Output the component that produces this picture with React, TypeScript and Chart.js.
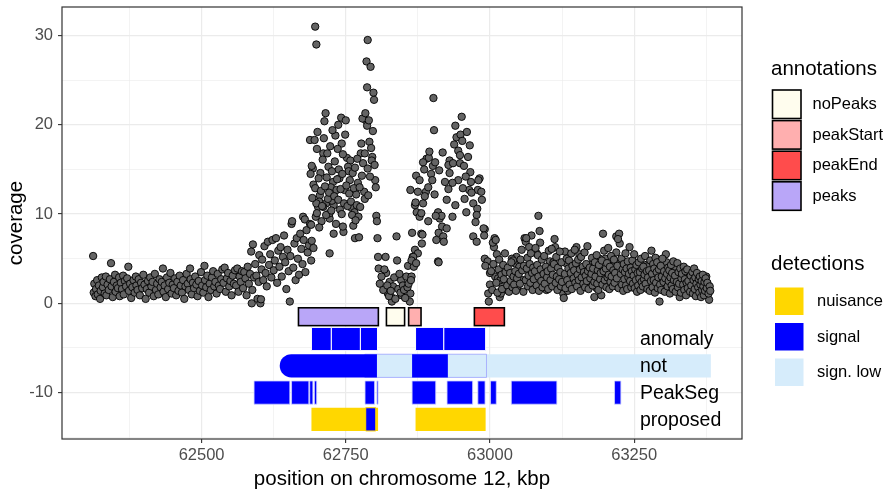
import React, { useEffect, useRef } from 'react';
import { Chart, registerables } from 'chart.js';
Chart.register(...registerables);

const FONT = '"Liberation Sans", Arial, Helvetica, sans-serif';

// ---- axes ----
const X_LIMITS = [62258, 63437];
const Y_LIMITS = [-15.2, 33.2];
const xTickValues = [62375, 62500, 62625, 62750, 62875, 63000, 63125, 63250, 63375];
const xTickLabels = ['', '62500', '', '62750', '', '63000', '', '63250', ''];
const yTickValues = [-15, -10, -5, 0, 5, 10, 15, 20, 25, 30];
const yTickLabels = ['', '-10', '', '0', '', '10', '', '20', '', '30'];
const xTitle = 'position on chromosome 12, kbp';
const yTitle = 'coverage';

// ---- coverage points [position kbp, coverage] ----
const baseCoverage = [
  [62312,5.3],[62313,1.2],[62314,2.2],[62316,0.8],[62317,1.6],[62319,2.6],[62320,1.0],[62322,2.0],[62324,0.5],[62325,1.4],
  [62327,2.9],[62329,1.8],[62330,2.4],[62332,1.1],[62334,3.0],[62335,0.9],[62337,2.1],[62339,1.5],[62341,2.7],[62343,4.5],
  [62344,1.9],[62346,0.7],[62348,2.4],[62350,3.2],[62351,1.3],[62353,2.0],[62355,1.7],[62357,2.9],[62358,0.8],[62360,2.3],
  [62362,1.6],[62364,3.1],[62365,1.0],[62367,2.5],[62369,1.9],[62371,2.8],[62373,4.1],[62374,1.4],[62376,2.2],[62378,0.6],
  [62380,1.8],[62382,2.6],[62384,1.2],[62386,3.0],[62387,2.0],[62389,1.5],[62391,2.7],[62393,0.9],[62395,2.3],[62397,1.7],
  [62399,3.2],[62401,2.1],[62403,0.5],[62405,1.6],[62407,2.5],[62409,1.2],[62411,2.9],[62413,1.9],[62415,2.4],[62417,0.8],
  [62419,3.3],[62421,1.5],[62423,2.2],[62425,1.0],[62427,2.7],[62429,1.8],[62431,2.4],[62433,3.9],[62434,1.3],[62436,2.0],
  [62438,0.7],[62440,2.9],[62442,1.6],[62444,2.3],[62446,3.4],[62448,1.1],[62450,2.1],[62452,1.7],[62454,2.8],[62456,0.9],
  [62458,2.4],[62460,1.4],[62462,3.1],[62464,2.0],[62466,1.2],[62468,2.6],[62470,0.5],[62472,1.9],[62474,3.3],[62476,2.2],
  [62478,1.5],[62480,3.9],[62481,2.7],[62483,1.0],[62485,2.3],[62487,1.7],[62489,3.0],[62491,2.1],[62493,0.8],[62495,2.5],
  [62497,1.4],[62499,3.5],[62501,2.0],[62503,1.2],[62505,4.2],[62506,2.6],[62508,1.8],[62510,3.1],[62512,0.7],[62514,2.2],
  [62516,1.5],[62518,2.9],[62520,3.6],[62522,1.9],[62524,2.4],[62526,1.1],[62528,3.3],[62530,2.0],[62532,1.6],[62534,2.7],
  [62536,3.8],[62538,2.3],[62540,4.0],[62542,1.3],[62544,2.8],[62546,3.4],[62548,1.9],[62550,2.5],[62552,0.9],[62554,3.1],
  [62556,2.2],[62558,3.7]
];
const riseCoverage = [
  [62560,2.0],[62562,3.9],[62564,1.3],[62566,3.0],[62568,2.4],[62570,3.6],[62572,1.7],[62574,3.5],[62576,2.8],[62578,0.9],
  [62580,4.1],[62582,2.2],[62584,3.3],[62586,5.8],[62587,0.0],[62588,1.5],[62589,6.6],[62591,2.9],[62593,4.4],[62595,3.1],
  [62597,0.5],[62599,2.4],[62600,5.4],[62602,0.0],[62603,0.45],[62604,3.8],[62605,4.9],[62607,2.6],[62609,6.4],[62611,3.4],
  [62613,1.9],[62615,6.9],[62617,4.3],[62619,5.5],[62621,2.9],[62623,7.1],[62625,3.7],[62627,4.8],[62629,7.3],[62631,2.3],
  [62633,5.9],[62635,4.1],[62637,6.3],[62639,3.0],[62641,5.2],[62643,7.6],[62645,4.6],[62647,1.6],[62649,6.0],[62651,3.6],
  [62653,0.2],[62654,5.3],[62656,8.9],[62657,9.2],[62659,4.0],[62661,6.7],[62663,2.6],[62665,7.3],[62667,5.0],[62669,3.2],
  [62671,7.8],[62673,6.1],[62675,4.4],[62676,9.7],[62677,7.1],[62679,9.4],[62680,3.5],[62682,8.2],[62684,5.7],[62686,6.5],
  [62688,8.9],[62690,4.8]
];
const peak1Coverage = [
  [62697,31.0],[62699,29.0],[62788,29.5],[62786,27.1],[62793,26.5],[62787,24.2],[62798,23.6],[62799,22.8],
  [62715,21.3],[62713,20.4],[62742,20.8],[62750,20.5],[62737,20.0],[62701,19.2],[62688,18.3],[62696,18.3],[62732,18.8],
  [62749,18.9],[62743,17.9],[62736,17.3],[62700,17.3],[62711,16.8],[62710,16.1],[62752,16.3],[62758,16.0],[62754,15.3],
  [62755,14.8],[62720,15.3],[62693,15.1],[62689,14.5],[62706,14.6],[62717,14.1],[62728,13.6],[62739,14.0],[62757,13.8],
  [62771,13.5],[62724,13.0],[62734,12.7],[62748,12.7],[62768,12.2],[62782,12.5],[62783,11.7],[62694,13.3],[62705,12.1],
  [62704,11.4],[62702,10.8],[62716,11.2],[62729,11.0],[62740,10.5],[62760,10.7],[62765,10.2],[62761,9.9],[62772,9.7],
  [62722,9.5],[62708,9.2],[62690,8.8],[62729,7.8],[62746,8.0],[62745,8.6],[62766,7.3],[62773,7.4],[62722,5.6],[62801,13.8],
  [62802,13.0],[62803,9.8],[62804,9.2],[62805,7.3],[62777,17.9],[62776,16.8],[62791,18.1],[62794,17.4],[62796,16.4],
  [62795,16.0],[62780,15.7],[62783,16.8],[62785,20.5],[62779,20.7],[62784,21.3],[62787,19.9],[62790,20.5],[62698,9.7],
  [62722,10.1],[62726,11.5],[62711,10.8],[62699,11.2],[62691,15.4],
  [62691,7.0],[62692,11.8],[62694,6.2],[62697,12.9],[62700,10.1],[62703,14.0],[62704,8.5],[62707,12.6],[62709,10.9],
  [62712,18.5],[62714,13.1],[62716,9.9],[62718,16.8],[62719,11.7],[62721,12.4],[62723,17.6],[62725,10.4],[62726,14.8],
  [62727,19.4],[62730,12.0],[62731,15.9],[62733,8.9],[62735,13.9],[62737,11.6],[62738,15.0],[62741,12.8],[62743,10.0],
  [62744,14.5],[62745,16.7],[62747,11.2],[62751,13.2],[62753,10.9],[62756,12.3],[62759,11.4],[62762,14.6],[62763,8.7],
  [62764,12.9],[62766,15.2],[62767,9.3],[62769,11.0],[62770,16.2],[62774,13.0],[62775,10.8],[62778,14.3],[62788,15.1],
  [62789,12.1],[62792,14.2],[62797,19.3],[62800,15.5]
];
const dipCoverage = [
  [62806,5.2],[62819,5.2],[62838,7.5],[62807,3.9],[62820,3.4],[62839,4.8],[62809,2.2],[62826,2.4],[62832,1.9],[62846,2.6],
  [62855,3.0],[62864,3.0],[62829,0.7],[62830,0.2],[62847,0.9],[62861,0.2],[62858,4.2],[62866,5.2],[62865,7.9],[62862,1.1],
  [62823,1.1],[62812,3.0],[62815,1.5],[62817,3.8],[62822,2.0],[62825,0.8],[62828,1.4],[62834,2.9],[62836,0.5],[62841,1.6],
  [62843,3.3],[62845,1.2],[62849,2.0],[62851,1.5],[62853,0.6],[62857,1.8],[62859,2.2],[62863,2.6],[62868,4.1],[62862,12.7]
];
const peak2Coverage = [
  [62902,23.0],[62903,19.4],[62951,20.9],[62940,19.9],[62942,18.6],[62949,18.9],[62952,18.2],[62965,17.7],[62938,17.8],
  [62890,16.2],[62894,16.3],[62901,15.4],[62898,14.5],[62872,14.3],[62878,13.8],[62875,12.5],[62889,12.5],[62904,12.2],
  [62900,13.8],[62922,13.6],[62930,16.0],[62928,15.5],[62936,15.7],[62948,15.7],[62955,15.4],[62962,16.4],[62966,14.7],
  [62982,14.0],[62980,13.8],[62945,13.8],[62935,13.5],[62967,13.6],[62964,12.7],[62979,12.7],[62985,12.5],[62968,12.4],
  [62956,11.7],[62986,11.6],[62971,11.2],[62978,10.6],[62959,10.2],[62977,9.9],[62975,9.1],[62991,8.3],[62971,7.5],
  [62977,6.9],[62870,11.0],[62871,11.3],[62884,11.2],[62887,12.0],[62893,13.0],[62873,10.2],[62878,9.7],[62881,10.1],
  [62893,9.2],[62910,10.2],[62913,9.5],[62916,9.8],[62925,11.6],[62935,9.7],[62906,9.8],[62917,8.6],[62925,8.4],
  [62911,7.9],[62919,7.5],[62907,7.1],[62920,6.9],[62881,7.8],[62883,7.7],[62882,6.7],[62870,6.0],[62875,5.6],[62867,5.2],
  [62864,4.8],[62872,4.5],[62910,4.7],[62911,4.6],[62895,17.0],[62930,14.6],[62945,17.1],[62958,14.2],[62940,11.0],
  [62928,12.8],[62912,14.9],[62905,15.8],[62918,16.9],[62953,12.9],[62960,19.2],[62948,16.6],[62884,15.8],[62886,15.0]
];
const tailCoverage = [
  [62989,8.4],[62990,7.6],[63007,6.3],[63008,7.3],[63005,6.8],[62991,5.0],[62996,4.7],[63009,3.0],[63014,2.8],[62997,1.1],
  [62998,0.2],[63017,0.7],[63022,2.0],[62992,4.2],[63000,3.4],[63010,7.1],[63018,2.6],[63019,1.1],[63029,1.5],[63034,2.2],
  [63043,4.5],[63046,5.2],[63051,4.1],[63060,7.3],[63062,6.9],[63057,2.6],[63048,1.9],[63084,9.8],[63086,8.1],[63087,6.8],
  [63072,7.6],[63063,7.3],[63068,6.3],[63055,6.0],[63038,5.0],[63040,4.8],[63081,5.6],[63083,5.4],[63112,7.2],[63113,6.3],
  [63104,4.7],[63110,4.6],[63130,5.8],[63150,6.3],[63155,5.5],[63132,4.5],[63098,1.5],[63127,1.1],[63128,0.6],[63135,1.4],
  [63181,0.7],[63196,7.8],[63219,7.5],[63224,7.8],[63225,6.7],[63222,7.2],[63219,5.7],[63226,4.7],[63212,4.4],[63190,5.0],
  [63200,5.0],[63175,4.3],[63160,3.7],[63185,1.7],[63193,0.9],[63172,1.9],[63280,5.9],[63300,4.7],[63306,4.6],[63305,5.5],
  [63271,4.3],[63275,4.2],[63294,0.2],[63323,3.9],[63345,3.4],[63346,2.8],[63375,3.0],[63378,1.9],[63380,0.4],[63360,1.0],
  [63350,1.5],[63329,0.7],[63334,1.8],[63320,2.0],
  [63000,2.1],[63002,3.6],[63004,1.5],[63006,4.4],[63011,2.3],[63012,5.5],[63013,1.2],[63015,3.8],[63016,4.9],[63020,3.2],
  [63021,1.6],[63023,4.3],[63024,2.7],[63026,5.6],[63027,3.5],[63030,2.0],[63031,4.0],[63033,1.3],[63035,3.4],[63036,2.5],
  [63037,4.6],[63039,1.8],[63041,3.0],[63042,2.1],[63044,3.6],[63045,1.4],[63047,2.8],[63050,3.3],[63052,2.2],[63053,4.9],
  [63056,3.7],[63058,1.3],[63059,4.2],[63062,2.6],[63064,3.9],[63065,5.1],[63066,1.9],[63067,3.1],[63069,4.4],[63070,2.3],
  [63071,5.6],[63073,3.4],[63074,1.5],[63075,4.0],[63076,2.7],[63078,3.6],[63079,6.2],[63081,2.0],[63082,4.3],[63084,3.0],
  [63085,1.4],[63088,3.8],[63089,2.5],[63090,4.9],[63091,1.8],[63093,3.3],[63094,5.3],[63095,2.2],[63097,4.1],[63099,2.9],
  [63100,3.6],[63101,1.6],[63102,5.9],[63105,2.6],[63106,3.9],[63107,6.1],[63108,1.9],[63109,3.2],[63111,4.4],[63114,2.3],
  [63115,5.2],[63116,3.0],[63117,1.5],[63118,4.0],[63120,2.7],[63121,5.8],[63122,3.5],[63123,1.9],[63124,4.6],[63125,2.4],
  [63130,3.3],[63131,1.7],[63133,5.0],[63134,2.6],[63136,3.9],[63137,4.8],[63138,2.1],[63140,3.4],[63141,5.6],[63142,1.6],
  [63143,4.2],[63145,2.8],[63146,3.7],[63147,6.0],[63148,2.3],[63149,4.5],[63151,1.9],[63152,3.2],[63153,4.9],[63154,2.6],
  [63156,3.8],[63157,1.4],[63158,5.2],[63159,2.9],[63161,4.1],[63162,2.2],[63163,3.5],[63164,5.7],[63165,1.8],[63166,3.1],
  [63167,4.4],[63168,2.5],[63169,6.4],[63170,3.6],[63171,1.6],[63173,4.0],[63174,2.8],[63176,3.3],[63177,5.1],[63178,2.0],
  [63179,3.9],[63181,2.4],[63182,4.6],[63183,3.0],[63185,5.4],[63186,2.2],[63187,3.7],[63188,1.5],[63189,4.3],[63191,2.7],
  [63192,3.4],[63194,4.8],[63195,2.1],[63197,3.6],[63198,5.9],[63199,2.6],[63201,3.9],[63202,1.8],[63203,4.5],[63204,2.9],
  [63205,6.2],[63206,3.2],[63207,1.6],[63208,4.1],[63209,2.4],[63210,5.3],[63211,3.0],[63213,1.9],[63214,3.7],[63215,4.9],
  [63216,2.3],[63217,3.4],[63220,2.8],[63221,4.2],[63223,1.7],[63227,3.3],[63228,5.0],[63229,2.1],[63230,3.8],[63231,1.4],
  [63232,4.4],[63233,2.7],[63234,3.5],[63235,5.6],[63236,2.0],[63237,3.9],[63238,1.6],[63239,4.7],[63240,2.9],[63241,3.3],
  [63242,6.3],[63243,2.5],[63244,4.0],[63245,1.8],[63246,3.6],[63247,4.8],[63248,2.2],[63249,3.1],[63250,5.5],[63251,1.7],
  [63252,3.8],[63253,2.6],[63254,4.3],[63255,1.3],[63256,3.4],[63257,2.0],[63258,4.6],[63259,2.8],[63260,3.5],[63261,1.5],
  [63262,5.0],[63263,2.4],[63264,3.9],[63265,1.9],[63266,4.1],[63267,2.7],[63268,3.2],[63269,5.3],[63270,2.2],[63272,3.6],
  [63273,1.6],[63274,2.9],[63276,3.7],[63277,1.4],[63278,4.8],[63279,2.5],[63281,3.3],[63282,1.8],[63283,4.4],[63284,2.6],
  [63285,3.9],[63286,1.2],[63287,5.1],[63288,2.3],[63289,3.5],[63290,4.6],[63291,1.7],[63292,2.9],[63293,3.8],[63295,2.1],
  [63296,4.2],[63297,1.5],[63298,3.0],[63299,5.0],[63301,2.4],[63302,3.6],[63303,1.3],[63304,2.8],[63307,3.3],[63308,1.9],
  [63309,4.0],[63310,2.5],[63311,3.7],[63312,1.1],[63313,2.9],[63314,4.3],[63315,2.0],[63316,3.4],[63317,1.6],[63318,4.7],
  [63319,2.6],[63321,3.1],[63322,1.3],[63324,2.4],[63325,4.5],[63326,1.8],[63327,3.5],[63328,2.2],[63330,3.9],[63331,1.2],
  [63332,2.8],[63333,3.3],[63335,2.1],[63336,4.1],[63337,1.5],[63338,2.7],[63339,3.6],[63340,0.9],[63341,2.3],[63342,3.8],
  [63343,1.7],[63344,2.5],[63347,1.3],[63348,3.1],[63349,2.0],[63351,3.5],[63352,1.1],[63353,2.6],[63354,3.9],[63355,1.6],
  [63356,2.9],[63357,0.8],[63358,2.2],[63359,3.4],[63361,1.8],[63362,2.7],[63363,1.2],[63364,3.0],[63365,2.1],[63366,0.7],
  [63367,2.5],[63368,1.5],[63369,3.2],[63370,1.9],[63371,0.9],[63372,2.4],[63373,1.4],[63374,2.8],[63376,1.7],[63377,2.3],
  [63379,1.1],[63381,1.9],[63382,1.4]
];

// ---- annotations ----
const annType = ['peaks', 'noPeaks', 'peakStart', 'peakEnd'];
const annStart = [62668, 62820.5, 62859, 62973];
const annEnd = [62806.5, 62852, 62880.5, 63025];
const annYRange = [-2.5, -0.5];
const annLegendNames = ['noPeaks', 'peakStart', 'peakEnd', 'peaks'];
const annColors = { noPeaks: '#FFFDEE', peakStart: '#FFAFAF', peakEnd: '#FF4C4C', peaks: '#B9A6F8' };

// ---- detections ----
const rowNames = ['anomaly', 'not', 'PeakSeg', 'proposed'];
const rowY = [-4, -7, -10, -13];
const rowHalf = 1.3;
const rowLabelX = 63260;
const anomalySignal = [[62690.5, 62725], [62725, 62775.4], [62775.4, 62805], [62871, 62920], [62920, 62992.5]];
const notLow = [[62804, 63383]];
const notLowOutlined = [[62783, 62994]];
const notSignal = [[62635.5, 62804], [62865, 62927]];
const peakSegSignal = [
  [62591, 62653], [62656, 62686], [62687.5, 62693], [62695.6, 62699.6], [62783.4, 62800], [62804, 62806],
  [62865, 62906], [62925.6, 62970], [62979, 62991.5], [63001, 63011], [63037, 63116], [63216, 63227]
];
const proposedNuisance = [[62690.5, 62806], [62871, 62992.5]];
const proposedSignal = [[62784.6, 62802]];
const detLegendNames = ['nuisance', 'signal', 'sign. low'];
const detColors = { nuisance: '#FFD700', signal: '#0000FF', 'sign. low': '#D6ECFB' };

const allCoverage = [
  ...baseCoverage, ...riseCoverage, ...peak1Coverage, ...dipCoverage, ...peak2Coverage, ...tailCoverage
];

const overlayPlugin = {
  id: 'overlay',
  afterDatasetsDraw(chart: any) {
    const { ctx, chartArea } = chart;
    const xs = chart.scales.x;
    const ys = chart.scales.y;
    const px = (v: number) => xs.getPixelForValue(v);
    const py = (v: number) => ys.getPixelForValue(v);
    ctx.save();
    ctx.beginPath();
    ctx.rect(chartArea.left, chartArea.top, chartArea.right - chartArea.left, chartArea.bottom - chartArea.top);
    ctx.clip();

    // annotation rectangles
    annStart.forEach((s, i) => {
      const x0 = px(s), x1 = px(annEnd[i]);
      const y0 = py(annYRange[1]), y1 = py(annYRange[0]);
      ctx.fillStyle = (annColors as any)[annType[i]];
      ctx.fillRect(x0, y0, x1 - x0, y1 - y0);
      ctx.lineWidth = 1.6;
      ctx.strokeStyle = '#000';
      ctx.strokeRect(x0, y0, x1 - x0, y1 - y0);
    });

    const band = (segs: number[][], row: number, fill: string, stroke: string | null, lw: number, roundLeft = false) => {
      segs.forEach(([a, b]) => {
        const x0 = px(a), x1 = px(b);
        const y0 = py(rowY[row] + rowHalf), y1 = py(rowY[row] - rowHalf);
        ctx.fillStyle = fill;
        ctx.beginPath();
        if (roundLeft) {
          const r = (y1 - y0) / 2;
          (ctx as any).roundRect(x0, y0, x1 - x0, y1 - y0, [r, 0, 0, r]);
        } else {
          ctx.rect(x0, y0, x1 - x0, y1 - y0);
        }
        ctx.fill();
        if (stroke) {
          ctx.lineWidth = lw;
          ctx.strokeStyle = stroke;
          ctx.stroke();
        }
      });
    };

    band(anomalySignal, 0, detColors.signal, '#FFFFFF', 1);
    band(notLow, 1, detColors['sign. low'], null, 0);
    band(notLowOutlined, 1, detColors['sign. low'], '#8C8CFF', 0.6);
    band(notSignal.slice(0, 1), 1, detColors.signal, null, 0, true);
    band(notSignal.slice(1), 1, detColors.signal, null, 0);
    band(peakSegSignal, 2, detColors.signal, '#CFD3FF', 0.8);
    band(proposedNuisance, 3, detColors.nuisance, null, 0);
    band(proposedSignal, 3, detColors.signal, detColors.nuisance, 1);

    ctx.fillStyle = '#000';
    ctx.font = `19.5px ${FONT}`;
    ctx.textAlign = 'left';
    ctx.textBaseline = 'middle';
    rowNames.forEach((n, i) => ctx.fillText(n, px(rowLabelX), py(rowY[i]) + 1));
    ctx.restore();
  },
  afterDraw(chart: any) {
    const { ctx, chartArea } = chart;
    ctx.save();
    // panel border
    ctx.strokeStyle = '#333333';
    ctx.lineWidth = 1.2;
    ctx.strokeRect(chartArea.left, chartArea.top, chartArea.right - chartArea.left, chartArea.bottom - chartArea.top);

    // legend: annotations
    ctx.fillStyle = '#000';
    ctx.textAlign = 'left';
    ctx.textBaseline = 'middle';
    ctx.font = `20.5px ${FONT}`;
    ctx.fillText('annotations', 771, 69);
    ctx.font = `16.5px ${FONT}`;
    annLegendNames.forEach((n, i) => {
      const top = 90 + i * 30.6;
      ctx.fillStyle = (annColors as any)[n];
      ctx.fillRect(772.5, top, 28.5, 28.5);
      ctx.lineWidth = 1.6;
      ctx.strokeStyle = '#000';
      ctx.strokeRect(772.5, top, 28.5, 28.5);
      ctx.fillStyle = '#000';
      ctx.fillText(n, 812.5, top + 14.5);
    });
    // legend: detections
    ctx.font = `20.5px ${FONT}`;
    ctx.fillText('detections', 771, 264);
    ctx.font = `16.5px ${FONT}`;
    detLegendNames.forEach((n, i) => {
      const top = 287.5 + i * 35.5;
      ctx.fillStyle = (detColors as any)[n];
      ctx.fillRect(775, top, 28.5, 27.5);
      ctx.fillStyle = '#000';
      ctx.fillText(n, 817, top + 14);
    });
    ctx.restore();
  }
};

export default function App() {
  const ref = useRef<HTMLCanvasElement | null>(null);
  useEffect(() => {
    if (!ref.current) return;
    const isMajorX = (v: number) => xTickLabels[xTickValues.indexOf(v)] !== '';
    const isMajorY = (v: number) => yTickLabels[yTickValues.indexOf(v)] !== '';
    const chart = new Chart(ref.current, {
      type: 'scatter',
      data: {
        datasets: [{
          data: allCoverage.map(([x, y]) => ({ x, y })),
          backgroundColor: '#646464',
          borderColor: '#000000',
          borderWidth: 0.9,
          pointRadius: 3.7,
          pointHoverRadius: 3.7,
        }]
      },
      options: {
        animation: false,
        responsive: false,
        devicePixelRatio: 1,
        events: [],
        layout: { padding: { left: 0, top: 7, right: 150, bottom: 0 } },
        plugins: { legend: { display: false }, tooltip: { enabled: false } },
        scales: {
          x: {
            type: 'linear',
            min: X_LIMITS[0],
            max: X_LIMITS[1],
            afterBuildTicks: (s: any) => { s.ticks = xTickValues.map(v => ({ value: v })); },
            afterFit: (s: any) => { s.height = 54; s.paddingLeft = 0; s.paddingRight = 0; },
            border: { display: false },
            grid: {
              color: '#EBEBEB',
              lineWidth: (c: any) => (isMajorX(c.tick?.value) ? 1.2 : 0.6),
              tickLength: 4,
              tickColor: (c: any) => (isMajorX(c.tick?.value) ? '#333333' : 'rgba(0,0,0,0)'),
              tickWidth: 1.1,
            },
            ticks: {
              autoSkip: false,
              maxRotation: 0,
              padding: 3,
              color: '#4D4D4D',
              font: { family: FONT, size: 16.5, lineHeight: 1.2 },
              callback: (v: any) => xTickLabels[xTickValues.indexOf(Number(v))] ?? '',
            },
            title: { display: true, text: xTitle, color: '#000', font: { family: FONT, size: 20.5, lineHeight: 1.2 }, padding: { top: 0, bottom: 1 } },
          },
          y: {
            type: 'linear',
            min: Y_LIMITS[0],
            max: Y_LIMITS[1],
            afterBuildTicks: (s: any) => { s.ticks = yTickValues.map(v => ({ value: v })); },
            afterFit: (s: any) => { s.width = 62; s.paddingTop = 0; s.paddingBottom = 0; },
            border: { display: false },
            grid: {
              color: '#EBEBEB',
              lineWidth: (c: any) => (isMajorY(c.tick?.value) ? 1.2 : 0.6),
              tickLength: 4,
              tickColor: (c: any) => (isMajorY(c.tick?.value) ? '#333333' : 'rgba(0,0,0,0)'),
              tickWidth: 1.1,
            },
            ticks: {
              autoSkip: false,
              padding: 5,
              color: '#4D4D4D',
              font: { family: FONT, size: 16.5, lineHeight: 1.2 },
              callback: (v: any) => yTickLabels[yTickValues.indexOf(Number(v))] ?? '',
            },
            title: { display: true, text: yTitle, color: '#000', font: { family: FONT, size: 20.5, lineHeight: 1.2 }, padding: { top: 4, bottom: 0 } },
          }
        }
      },
      plugins: [overlayPlugin]
    } as any);
    return () => chart.destroy();
  }, []);
  return (
    <div style={{ position: 'fixed', left: 0, top: 0, width: 892, height: 493, background: '#FFFFFF' }}>
      <canvas ref={ref} width={892} height={493} style={{ display: 'block' }} />
    </div>
  );
}
